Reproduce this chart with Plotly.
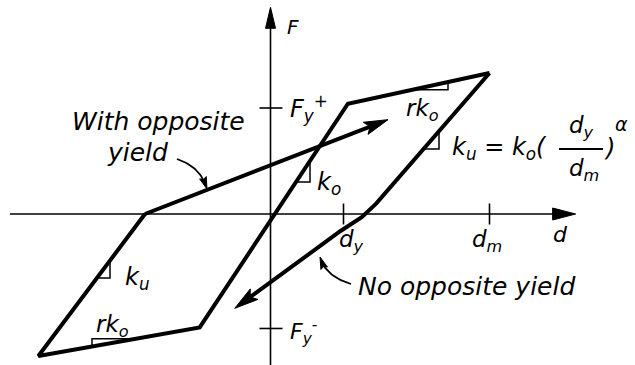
import math
import plotly.graph_objects as go

# ---- model quantities (d in units of d_y, F in units of F_y+) ----
d_y = 1.0
d_m = 3.0
F_y_pos = 1.0
F_y_neg = -1.08

# skeleton branch: left corner -> lower-left peak -> negative yield -> positive yield -> max peak
skeleton_d = [-1.72, -3.18, -0.97, 1.06, 3.0]
skeleton_F = [0.0, -1.34, -1.07, 1.04, 1.33]

# reloading toward the peak ("with opposite yield")
reload_d = [-1.72, 1.61]
reload_F = [0.0, 0.89]

# unloading from the max peak ("no opposite yield")
unload_d = [3.0, 1.71, 1.45, 1.25, 0.96, -0.49]
unload_F = [1.33, 0.30, 0.10, -0.03, -0.16, -0.89]

# coordinate axes extents
axis_d = [-3.57, 4.18]
axis_F = [-1.45, 1.95]

# ---- canvas geometry ----
W, H = 635, 365
X0, Y0 = 270.5, 214.0     # pixel position of the origin
SX, SY = 73.0, 106.0      # pixels per unit

FONT = "DejaVu Sans"
INK = "black"


def to_px(d, F):
    return X0 + d * SX, Y0 - F * SY


def to_data(x, y):
    return (x - X0) / SX, (Y0 - y) / SY


def arrow_head(tip, back, length, half, notch=0.0):
    """Filled arrowhead (data coords) pointing from `back` to `tip`; also returns base point."""
    tx, ty = to_px(*tip)
    bx, by = to_px(*back)
    ux, uy = tx - bx, ty - by
    n = math.hypot(ux, uy)
    ux, uy = ux / n, uy / n
    nx, ny = -uy, ux
    cx, cy = tx - ux * length, ty - uy * length
    ix, iy = tx - ux * length * (1 - notch), ty - uy * length * (1 - notch)
    pts = [(tx, ty), (cx + nx * half, cy + ny * half), (ix, iy),
           (cx - nx * half, cy - ny * half), (tx, ty)]
    pts = [to_data(*p) for p in pts]
    base = to_data(ix, iy)
    return [p[0] for p in pts], [p[1] for p in pts], base


fig = go.Figure()


def add_line(xs, ys, width, color=INK):
    fig.add_trace(go.Scatter(x=xs, y=ys, mode="lines",
                             line=dict(color=color, width=width),
                             hoverinfo="skip", showlegend=False))


def add_fill(xs, ys):
    fig.add_trace(go.Scatter(x=xs, y=ys, mode="lines", fill="toself",
                             fillcolor=INK, line=dict(color=INK, width=1),
                             hoverinfo="skip", showlegend=False))


# ---- axes ----
hx, hy, base = arrow_head((axis_d[1], 0.0), (0.0, 0.0), 23, 6)
add_line([axis_d[0], base[0]], [0.0, 0.0], 1.6)
add_fill(hx, hy)
hx, hy, base = arrow_head((0.0, axis_F[1]), (0.0, 0.0), 21, 5)
add_line([0.0, 0.0], [axis_F[0], base[1]], 1.6)
add_fill(hx, hy)

# tick marks for F_y+, F_y-, d_y, d_m
for fv in (F_y_pos, F_y_neg):
    add_line([-11 / SX, 12 / SX], [fv, fv], 1.6)
for dv in (d_y, d_m):
    add_line([dv, dv], [-10.5 / SY, 10.5 / SY], 1.6)

# ---- hysteresis branches ----
add_line(skeleton_d, skeleton_F, 4)

hx, hy, base = arrow_head((reload_d[-1], reload_F[-1]), (reload_d[0], reload_F[0]), 24, 6.5, 0.2)
add_line([reload_d[0], base[0]], [reload_F[0], base[1]], 4)
add_fill(hx, hy)

hx, hy, base = arrow_head((unload_d[-1], unload_F[-1]), (unload_d[-2], unload_F[-2]), 24, 6.5, 0.2)
add_line(unload_d[:-1] + [base[0]], unload_F[:-1] + [base[1]], 4)
add_fill(hx, hy)


# ---- slope triangles ----
def on_seg(seg_d, seg_F, d):
    (d1, d2), (f1, f2) = seg_d, seg_F
    return f1 + (f2 - f1) * (d - d1) / (d2 - d1)


def slope_triangle(seg_d, seg_F, x1_px, x2_px, below=True):
    a = to_data(x1_px, 0)[0]
    b = to_data(x2_px, 0)[0]
    fa, fb = on_seg(seg_d, seg_F, a), on_seg(seg_d, seg_F, b)
    if below:
        xs, ys = [a, b, b], [fa, fa, fb]
    else:
        xs, ys = [a, a, b], [fa, fb, fb]
    add_line(xs, ys, 1.5)


# rk_o on the upper post-yield branch
slope_triangle(skeleton_d[3:5], skeleton_F[3:5], 412, 448)
# k_o on the elastic branch
slope_triangle(skeleton_d[2:4], skeleton_F[2:4], 296, 310)
# k_u on the unloading branch
slope_triangle(unload_d[0:2], unload_F[0:2], 424, 439)
# k_u on the left unloading branch
slope_triangle(skeleton_d[0:2][::-1], skeleton_F[0:2][::-1], 97, 110)
# rk_o on the lower post-yield branch
slope_triangle(skeleton_d[1:3], skeleton_F[1:3], 92, 136, below=False)


# ---- curved leaders ----
def leader(p0, p1, p2):
    pts = []
    for i in range(31):
        t = i / 30
        x = (1 - t) ** 2 * p0[0] + 2 * (1 - t) * t * p1[0] + t ** 2 * p2[0]
        y = (1 - t) ** 2 * p0[1] + 2 * (1 - t) * t * p1[1] + t ** 2 * p2[1]
        pts.append(to_data(x, y))
    tip = pts[-1]
    back = pts[-6]
    hx, hy, base = arrow_head(tip, back, 12, 3.5, 0.15)
    xs = [p[0] for p in pts[:-4]]
    ys = [p[1] for p in pts[:-4]]
    add_line(xs, ys, 1.8)
    add_fill(hx, hy)


leader((177, 159), (201, 167), (207, 189))
leader((351, 284), (325, 276), (320, 257))

# ---- text ----
ann = []


def label(x, y, text, size, xanchor="left", yanchor="middle"):
    ann.append(dict(x=x / W, y=1 - y / H, xref="paper", yref="paper",
                    text=text, showarrow=False, xanchor=xanchor, yanchor=yanchor,
                    font=dict(family=FONT, size=size, color=INK, style="italic")))


label(285, 27, "F", 20)
label(288, 108, "F<sub>y</sub><sup>+</sup>", 24)
label(288, 332, "F<sub>y</sub><sup>-</sup>", 22)
label(337, 241, "d<sub>y</sub>", 23)
label(470, 241, "d<sub>m</sub>", 23)
label(551, 234, "d", 22)
label(158, 121, "With opposite", 25, xanchor="center")
label(137, 152, "yield", 25, xanchor="center")
label(356, 286, "No opposite yield", 25)
label(404, 110, "rk<sub>o</sub>", 23)
label(315, 183, "k<sub>o</sub>", 24)
label(123, 278, "k<sub>u</sub>", 24)
label(94, 326, "rk<sub>o</sub>", 23)

# k_u = k_o (d_y / d_m)^alpha
label(450, 148, "k<sub>u</sub> = k<sub>o</sub>(", 24)
label(581, 127, "d<sub>y</sub>", 23, xanchor="center")
label(584, 170, "d<sub>m</sub>", 23, xanchor="center")
label(602, 148, ")", 24)
label(613, 124, "α", 19)
fig.add_shape(type="line", xref="paper", yref="paper",
              x0=559 / W, x1=603 / W, y0=1 - 149 / H, y1=1 - 149 / H,
              line=dict(color=INK, width=1.8))

fig.update_layout(
    width=W, height=H,
    margin=dict(l=0, r=0, t=0, b=0),
    paper_bgcolor="white", plot_bgcolor="white",
    xaxis=dict(range=[-X0 / SX, (W - X0) / SX], visible=False, fixedrange=True),
    yaxis=dict(range=[-(H - Y0) / SY, Y0 / SY], visible=False, fixedrange=True),
    annotations=ann,
    showlegend=False,
)

fig.write_html("out.html")
